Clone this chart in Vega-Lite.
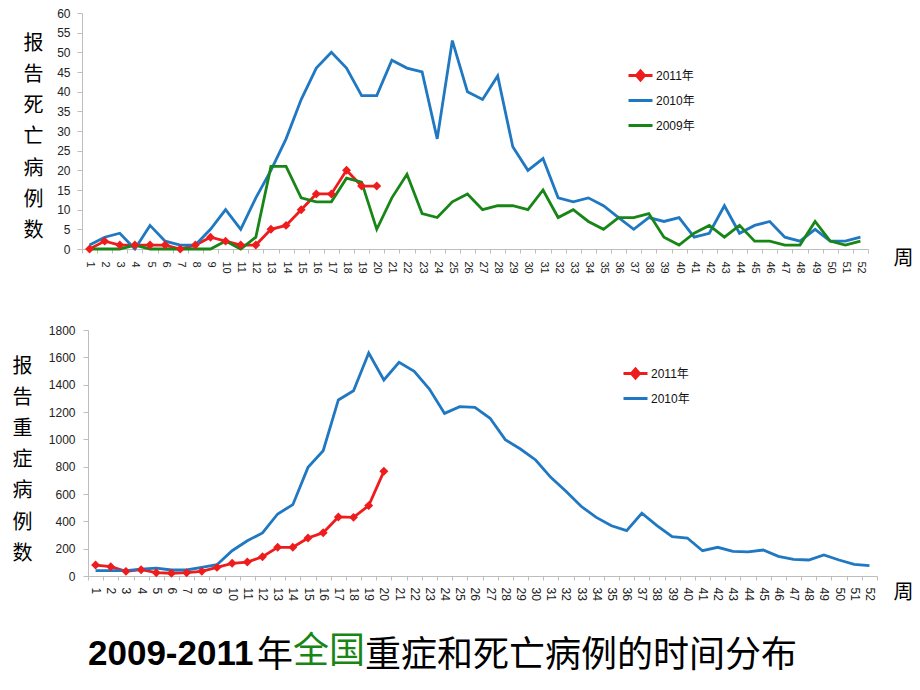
{
  "$schema": "https://vega.github.io/schema/vega-lite/v6.json",
  "background": "white",
  "padding": {"left": 12, "top": 7, "right": 0, "bottom": 0},
  "spacing": 50,
  "datasets": {
    "deaths": [
      {"week":1,"year":"2011年","n":0},{"week":2,"year":"2011年","n":2},{"week":3,"year":"2011年","n":1},{"week":4,"year":"2011年","n":1},{"week":5,"year":"2011年","n":1},{"week":6,"year":"2011年","n":1},{"week":7,"year":"2011年","n":0},{"week":8,"year":"2011年","n":1},{"week":9,"year":"2011年","n":3},{"week":10,"year":"2011年","n":2},{"week":11,"year":"2011年","n":1},{"week":12,"year":"2011年","n":1},{"week":13,"year":"2011年","n":5},{"week":14,"year":"2011年","n":6},{"week":15,"year":"2011年","n":10},{"week":16,"year":"2011年","n":14},{"week":17,"year":"2011年","n":14},{"week":18,"year":"2011年","n":20},{"week":19,"year":"2011年","n":16},{"week":20,"year":"2011年","n":16},
      {"week":1,"year":"2010年","n":1},{"week":2,"year":"2010年","n":3},{"week":3,"year":"2010年","n":4},{"week":4,"year":"2010年","n":0},{"week":5,"year":"2010年","n":6},{"week":6,"year":"2010年","n":2},{"week":7,"year":"2010年","n":1},{"week":8,"year":"2010年","n":1},{"week":9,"year":"2010年","n":5},{"week":10,"year":"2010年","n":10},{"week":11,"year":"2010年","n":5},{"week":12,"year":"2010年","n":13},{"week":13,"year":"2010年","n":20},{"week":14,"year":"2010年","n":28},{"week":15,"year":"2010年","n":38},{"week":16,"year":"2010年","n":46},{"week":17,"year":"2010年","n":50},{"week":18,"year":"2010年","n":46},{"week":19,"year":"2010年","n":39},{"week":20,"year":"2010年","n":39},{"week":21,"year":"2010年","n":48},{"week":22,"year":"2010年","n":46},{"week":23,"year":"2010年","n":45},{"week":24,"year":"2010年","n":28},{"week":25,"year":"2010年","n":53},{"week":26,"year":"2010年","n":40},{"week":27,"year":"2010年","n":38},{"week":28,"year":"2010年","n":44},{"week":29,"year":"2010年","n":26},{"week":30,"year":"2010年","n":20},{"week":31,"year":"2010年","n":23},{"week":32,"year":"2010年","n":13},{"week":33,"year":"2010年","n":12},{"week":34,"year":"2010年","n":13},{"week":35,"year":"2010年","n":11},{"week":36,"year":"2010年","n":8},{"week":37,"year":"2010年","n":5},{"week":38,"year":"2010年","n":8},{"week":39,"year":"2010年","n":7},{"week":40,"year":"2010年","n":8},{"week":41,"year":"2010年","n":3},{"week":42,"year":"2010年","n":4},{"week":43,"year":"2010年","n":11},{"week":44,"year":"2010年","n":4},{"week":45,"year":"2010年","n":6},{"week":46,"year":"2010年","n":7},{"week":47,"year":"2010年","n":3},{"week":48,"year":"2010年","n":2},{"week":49,"year":"2010年","n":5},{"week":50,"year":"2010年","n":2},{"week":51,"year":"2010年","n":2},{"week":52,"year":"2010年","n":3},
      {"week":1,"year":"2009年","n":0},{"week":2,"year":"2009年","n":0},{"week":3,"year":"2009年","n":0},{"week":4,"year":"2009年","n":1},{"week":5,"year":"2009年","n":0},{"week":6,"year":"2009年","n":0},{"week":7,"year":"2009年","n":0},{"week":8,"year":"2009年","n":0},{"week":9,"year":"2009年","n":0},{"week":10,"year":"2009年","n":2},{"week":11,"year":"2009年","n":0},{"week":12,"year":"2009年","n":3},{"week":13,"year":"2009年","n":21},{"week":14,"year":"2009年","n":21},{"week":15,"year":"2009年","n":13},{"week":16,"year":"2009年","n":12},{"week":17,"year":"2009年","n":12},{"week":18,"year":"2009年","n":18},{"week":19,"year":"2009年","n":17},{"week":20,"year":"2009年","n":5},{"week":21,"year":"2009年","n":13},{"week":22,"year":"2009年","n":19},{"week":23,"year":"2009年","n":9},{"week":24,"year":"2009年","n":8},{"week":25,"year":"2009年","n":12},{"week":26,"year":"2009年","n":14},{"week":27,"year":"2009年","n":10},{"week":28,"year":"2009年","n":11},{"week":29,"year":"2009年","n":11},{"week":30,"year":"2009年","n":10},{"week":31,"year":"2009年","n":15},{"week":32,"year":"2009年","n":8},{"week":33,"year":"2009年","n":10},{"week":34,"year":"2009年","n":7},{"week":35,"year":"2009年","n":5},{"week":36,"year":"2009年","n":8},{"week":37,"year":"2009年","n":8},{"week":38,"year":"2009年","n":9},{"week":39,"year":"2009年","n":3},{"week":40,"year":"2009年","n":1},{"week":41,"year":"2009年","n":4},{"week":42,"year":"2009年","n":6},{"week":43,"year":"2009年","n":3},{"week":44,"year":"2009年","n":6},{"week":45,"year":"2009年","n":2},{"week":46,"year":"2009年","n":2},{"week":47,"year":"2009年","n":1},{"week":48,"year":"2009年","n":1},{"week":49,"year":"2009年","n":7},{"week":50,"year":"2009年","n":2},{"week":51,"year":"2009年","n":1},{"week":52,"year":"2009年","n":2}
    ],
    "severe": [
      {"week":1,"year":"2011年","n":80},{"week":2,"year":"2011年","n":68},{"week":3,"year":"2011年","n":34},{"week":4,"year":"2011年","n":46},{"week":5,"year":"2011年","n":24},{"week":6,"year":"2011年","n":20},{"week":7,"year":"2011年","n":24},{"week":8,"year":"2011年","n":34},{"week":9,"year":"2011年","n":63},{"week":10,"year":"2011年","n":93},{"week":11,"year":"2011年","n":102},{"week":12,"year":"2011年","n":141},{"week":13,"year":"2011年","n":210},{"week":14,"year":"2011年","n":210},{"week":15,"year":"2011年","n":278},{"week":16,"year":"2011年","n":317},{"week":17,"year":"2011年","n":432},{"week":18,"year":"2011年","n":429},{"week":19,"year":"2011年","n":515},{"week":20,"year":"2011年","n":766},
      {"week":1,"year":"2010年","n":39},{"week":2,"year":"2010年","n":39},{"week":3,"year":"2010年","n":39},{"week":4,"year":"2010年","n":51},{"week":5,"year":"2010年","n":58},{"week":6,"year":"2010年","n":44},{"week":7,"year":"2010年","n":44},{"week":8,"year":"2010年","n":63},{"week":9,"year":"2010年","n":83},{"week":10,"year":"2010年","n":185},{"week":11,"year":"2010年","n":258},{"week":12,"year":"2010年","n":315},{"week":13,"year":"2010年","n":454},{"week":14,"year":"2010年","n":522},{"week":15,"year":"2010年","n":795},{"week":16,"year":"2010年","n":917},{"week":17,"year":"2010年","n":1288},{"week":18,"year":"2010年","n":1356},{"week":19,"year":"2010年","n":1632},{"week":20,"year":"2010年","n":1434},{"week":21,"year":"2010年","n":1563},{"week":22,"year":"2010年","n":1498},{"week":23,"year":"2010年","n":1368},{"week":24,"year":"2010年","n":1190},{"week":25,"year":"2010年","n":1239},{"week":26,"year":"2010年","n":1234},{"week":27,"year":"2010年","n":1154},{"week":28,"year":"2010年","n":998},{"week":29,"year":"2010年","n":929},{"week":30,"year":"2010年","n":849},{"week":31,"year":"2010年","n":722},{"week":32,"year":"2010年","n":620},{"week":33,"year":"2010年","n":510},{"week":34,"year":"2010年","n":429},{"week":35,"year":"2010年","n":368},{"week":36,"year":"2010年","n":332},{"week":37,"year":"2010年","n":459},{"week":38,"year":"2010年","n":368},{"week":39,"year":"2010年","n":288},{"week":40,"year":"2010年","n":278},{"week":41,"year":"2010年","n":185},{"week":42,"year":"2010年","n":210},{"week":43,"year":"2010年","n":180},{"week":44,"year":"2010年","n":176},{"week":45,"year":"2010年","n":190},{"week":46,"year":"2010年","n":144},{"week":47,"year":"2010年","n":122},{"week":48,"year":"2010年","n":117},{"week":49,"year":"2010年","n":154},{"week":50,"year":"2010年","n":117},{"week":51,"year":"2010年","n":85},{"week":52,"year":"2010年","n":76}
    ]
  },
  "config": {
    "view": {"stroke": null},
    "axis": {"labelFont": "Liberation Sans", "labelColor": "#222", "domainColor": "#bdbdbd", "tickColor": "#bdbdbd", "grid": false, "titleFont": "Noto Sans CJK SC", "titleColor": "#000", "titleFontWeight": "normal"},
    "legend": {"labelFont": "Liberation Sans, Noto Sans CJK SC", "labelColor": "#111", "labelFontSize": 12}
  },
  "title": {"text": "2009-2011", "orient": "bottom", "anchor": "start", "frame": "group", "fontSize": 35, "fontWeight": "bold", "font": "Liberation Sans", "color": "#000", "baseline": "alphabetic", "dx": 6, "offset": -9},
  "resolve": {"scale": {"color": "independent"}, "legend": {"color": "independent"}},
  "vconcat": [
    {
      "width": 786, "height": 236,
      "data": {"name": "deaths"},
      "encoding": {
        "x": {"field": "week", "type": "ordinal", "bandPosition": 0.5,
              "scale": {"type": "band", "paddingInner": 0, "paddingOuter": 0},
              "axis": {"labelAngle": 90, "labelAlign": "left", "labelBaseline": "middle", "labelFontSize": 11, "tickBand": "extent", "tickSize": 4, "labelPadding": 8,
                       "title": "周", "titleFontSize": 20, "titleAngle": 0, "titleAlign": "left", "titleBaseline": "middle", "titleX": 811, "titleY": 9}},
        "y": {"field": "n", "type": "quantitative", "scale": {"domain": [0, 60], "nice": false},
              "axis": {"values": [0,5,10,15,20,25,30,35,40,45,50,55,60], "format": "d", "labelFontSize": 12, "tickSize": 5, "labelPadding": 7,
                       "title": ["报","告","死","亡","病","例","数"], "titleAngle": 0, "titleFontSize": 20, "titleLineHeight": 31.3, "titleAlign": "center", "titleBaseline": "middle", "titleX": -49, "titleY": 30}}
      },
      "layer": [
        {"mark": {"type": "line", "strokeWidth": 2.8},
         "encoding": {"color": {"field": "year", "type": "nominal",
            "scale": {"domain": ["2011年","2010年","2009年"], "range": ["#ee1c1c","#1f78c1","#178617"]},
            "legend": {"orient": "none", "legendX": 545, "legendY": 49, "title": null, "symbolType": "M-1,0H1", "symbolStrokeWidth": 3, "symbolSize": 576, "labelOffset": 2, "rowPadding": -2.5,
              "encode": {"symbols": {"update": {"shape": {"signal": "datum.value === '2011年' ? 'M-1,0H1M-0.33,0L0,-0.38L0.33,0L0,0.38Z' : 'M-1,0H1M0,-0.38M0,0.38'"}, "fill": {"signal": "datum.value === '2011年' ? '#ee1c1c' : 'transparent'"}}}}}}}},
        {"transform": [{"filter": "datum.year === '2011年'"}],
         "mark": {"type": "point", "shape": "diamond", "filled": true, "size": 80, "color": "#ee1c1c", "opacity": 1}}
      ]
    },
    {
      "width": 795, "height": 246,
      "data": {"name": "severe"},
      "title": {"text": "年　　重症和死亡病例的时间分布", "subtitle": "\u200B　全国", "orient": "bottom", "anchor": "start", "frame": "group", "dx": 175, "offset": 65, "baseline": "alphabetic",
                "fontSize": 36, "font": "Noto Sans CJK SC", "fontWeight": "normal", "color": "#000",
                "subtitleFontSize": 36, "subtitleFont": "Noto Sans CJK SC", "subtitleFontWeight": "normal", "subtitleColor": "#178617", "subtitlePadding": -40},
      "encoding": {
        "x": {"field": "week", "type": "ordinal", "bandPosition": 0.5,
              "scale": {"type": "band", "paddingInner": 0, "paddingOuter": 0, "range": [6, 795]},
              "axis": {"labelAngle": 90, "labelAlign": "left", "labelBaseline": "middle", "labelFontSize": 12, "tickBand": "extent", "tickSize": 4, "labelPadding": 7,
                       "title": "周", "titleFontSize": 20, "titleAngle": 0, "titleAlign": "left", "titleBaseline": "middle", "titleX": 811, "titleY": 16}},
        "y": {"field": "n", "type": "quantitative", "scale": {"domain": [0, 1800], "nice": false},
              "axis": {"values": [0,200,400,600,800,1000,1200,1400,1600,1800], "format": "d", "offset": -6, "labelFontSize": 12, "tickSize": 5, "labelPadding": 8,
                       "title": ["报","告","重","症","病","例","数"], "titleAngle": 0, "titleFontSize": 20, "titleLineHeight": 31.2, "titleAlign": "center", "titleBaseline": "middle", "titleX": -66, "titleY": 36}}
      },
      "layer": [
        {"mark": {"type": "line", "strokeWidth": 2.8},
         "encoding": {"color": {"field": "year", "type": "nominal",
            "scale": {"domain": ["2011年","2010年"], "range": ["#ee1c1c","#1f78c1"]},
            "legend": {"orient": "none", "legendX": 540, "legendY": 30, "title": null, "symbolType": "M-1,0H1", "symbolStrokeWidth": 3, "symbolSize": 576, "labelOffset": 2, "rowPadding": 0,
              "encode": {"symbols": {"update": {"shape": {"signal": "datum.value === '2011年' ? 'M-1,0H1M-0.33,0L0,-0.38L0.33,0L0,0.38Z' : 'M-1,0H1M0,-0.38M0,0.38'"}, "fill": {"signal": "datum.value === '2011年' ? '#ee1c1c' : 'transparent'"}}}}}}}},
        {"transform": [{"filter": "datum.year === '2011年'"}],
         "mark": {"type": "point", "shape": "diamond", "filled": true, "size": 80, "color": "#ee1c1c", "opacity": 1}}
      ]
    }
  ]
}
